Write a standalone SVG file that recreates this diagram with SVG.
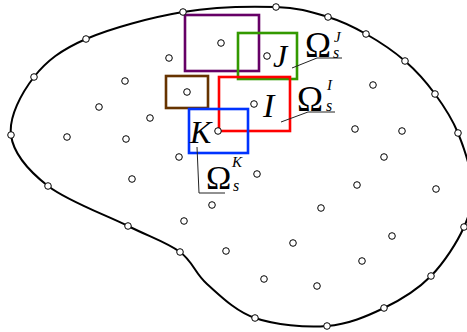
<svg xmlns="http://www.w3.org/2000/svg" width="467" height="332" viewBox="0 0 467 332">
<style>
.bd{fill:none;stroke:#000;stroke-width:2}
.nd{fill:#fff;stroke:#000;stroke-width:1}
.sd{fill:none;stroke-width:2.6}
.ld{fill:none;stroke:#222;stroke-width:1}
.big{font-family:"Liberation Serif",serif;font-style:italic;fill:#000}
.om{font-family:"Liberation Serif",serif;fill:#000}
.sm{font-family:"Liberation Serif",serif;font-style:italic;fill:#000}
</style>
<rect width="467" height="332" fill="#fff"/>
<g id="boundary">
<path class="bd" d="M183,12 C214.7,6.7 251.8,6.2 276,7 C300.2,7.8 313,12.5 328,17 C343,21.5 353.2,26.7 366,34 C378.8,41.3 393.5,51 405,61 C416.5,71 426.2,82 435,94 C443.8,106 451.8,117.8 458,133 C464.2,148.2 471,169.3 472,185 C473,200.7 470.8,211.8 464,227 C457.2,242.2 444.3,262.5 431,276 C417.7,289.5 401.3,299.7 384,308 C366.7,316.3 348.5,324.3 327,326 C305.5,327.7 275,325 255,318 C235,311 219.5,295 207,284 C194.5,273 193.2,261.7 180,252 C166.8,242.3 150,237 128,226 C106,215 67.5,201.2 48,186 C28.5,170.8 13.3,153.2 11,135 C8.7,116.8 21.5,93 34,77 C46.5,61 61.2,49.8 86,39 C110.8,28.2 151.3,17.3 183,12 Z"/>
</g>
<g id="subdomains">
<rect id="sub-purple" class="sd" stroke="#660066" x="185" y="15" width="74" height="56"/>
<rect id="sub-green" class="sd" stroke="#339900" x="238" y="33" width="59" height="46"/>
<rect id="sub-red" class="sd" stroke="#ff0000" x="219" y="77" width="71" height="54"/>
<rect id="sub-brown" class="sd" stroke="#663300" x="166" y="76" width="42" height="32"/>
<rect id="sub-blue" class="sd" stroke="#0033ff" x="189" y="109" width="59" height="44"/>
</g>
<g id="boundary-nodes">
<circle class="nd" r="3.3" cx="183" cy="12"/><circle class="nd" r="3.3" cx="276" cy="7"/><circle class="nd" r="3.3" cx="328" cy="17"/><circle class="nd" r="3.3" cx="366" cy="34"/><circle class="nd" r="3.3" cx="405" cy="61"/><circle class="nd" r="3.3" cx="435" cy="94"/><circle class="nd" r="3.3" cx="458" cy="133"/><circle class="nd" r="3.3" cx="464" cy="227"/><circle class="nd" r="3.3" cx="431" cy="276"/><circle class="nd" r="3.3" cx="384" cy="308"/><circle class="nd" r="3.3" cx="327" cy="326"/><circle class="nd" r="3.3" cx="255" cy="318"/><circle class="nd" r="3.3" cx="180" cy="252"/><circle class="nd" r="3.3" cx="128" cy="226"/><circle class="nd" r="3.3" cx="48" cy="186"/><circle class="nd" r="3.3" cx="11" cy="135"/><circle class="nd" r="3.3" cx="34" cy="77"/><circle class="nd" r="3.3" cx="86" cy="39"/>
</g>
<g id="interior-nodes">
<circle class="nd" r="3.3" cx="169" cy="58"/><circle class="nd" r="3.3" cx="221" cy="43"/><circle class="nd" r="3.3" cx="267" cy="56"/><circle class="nd" r="3.3" cx="125" cy="81"/><circle class="nd" r="3.3" cx="187" cy="92"/><circle class="nd" r="3.3" cx="99" cy="107"/><circle class="nd" r="3.3" cx="150" cy="118"/><circle class="nd" r="3.3" cx="254" cy="104"/><circle class="nd" r="3.3" cx="67" cy="137"/><circle class="nd" r="3.3" cx="126" cy="139"/><circle class="nd" r="3.3" cx="218" cy="131"/><circle class="nd" r="3.3" cx="179" cy="157"/><circle class="nd" r="3.3" cx="132" cy="179"/><circle class="nd" r="3.3" cx="257" cy="174"/><circle class="nd" r="3.3" cx="212" cy="205"/><circle class="nd" r="3.3" cx="184" cy="221"/><circle class="nd" r="3.3" cx="226" cy="251"/><circle class="nd" r="3.3" cx="357" cy="185"/><circle class="nd" r="3.3" cx="436" cy="189"/><circle class="nd" r="3.3" cx="321" cy="208"/><circle class="nd" r="3.3" cx="392" cy="236"/><circle class="nd" r="3.3" cx="293" cy="243"/><circle class="nd" r="3.3" cx="362" cy="261"/><circle class="nd" r="3.3" cx="264" cy="279"/><circle class="nd" r="3.3" cx="317" cy="286"/><circle class="nd" r="3.3" cx="373" cy="85"/><circle class="nd" r="3.3" cx="355" cy="129"/><circle class="nd" r="3.3" cx="402" cy="131"/><circle class="nd" r="3.3" cx="384" cy="157"/>
</g>
<g id="connectors">
<polyline class="ld" points="292,68 317,58 342,58"/>
<polyline class="ld" points="281,122 308,112 335,112"/>
<polyline class="ld" points="197,147 199,193 225,193"/>
</g>
<g id="label-J">
<text class="big" x="273" y="67" font-size="32">J</text>
<text class="om" x="305" y="57" font-size="35">Ω</text>
<text class="sm" x="334" y="42" font-size="15">J</text>
<text class="sm" x="333" y="58" font-size="16">s</text>
</g>
<g id="label-I">
<text class="big" x="263" y="117" font-size="34">I</text>
<text class="om" x="297" y="111" font-size="35">Ω</text>
<text class="sm" x="327" y="90" font-size="15">I</text>
<text class="sm" x="326" y="111" font-size="16">s</text>
</g>
<g id="label-K">
<text class="big" x="190" y="143" font-size="32">K</text>
<text class="om" x="206" y="189" font-size="34">Ω</text>
<text class="sm" x="232" y="167" font-size="15">K</text>
<text class="sm" x="233" y="191" font-size="16">s</text>
</g>
</svg>
